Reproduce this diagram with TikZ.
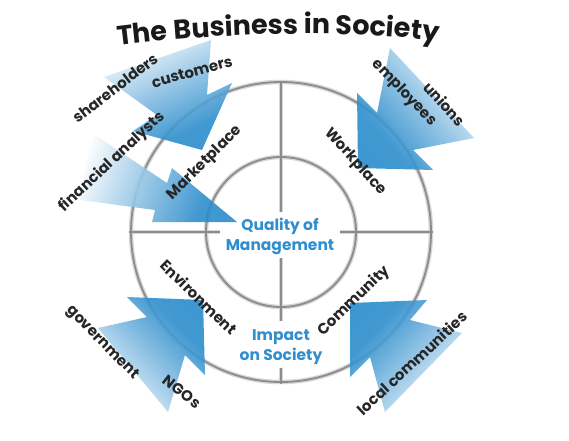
\documentclass[tikz,border=0pt]{standalone}
\usepackage{fontspec}
\setmainfont{Poppins}
\usetikzlibrary{decorations.text}
\definecolor{arrowblue}{HTML}{2388CA}
\definecolor{textblue}{HTML}{2F8ECF}
\definecolor{labelgray}{HTML}{262626}
\pgfdeclarehorizontalshading{arrowfade}{100bp}{color(0bp)=(white); color(22bp)=(white); color(48bp)=(arrowblue!55); color(68bp)=(arrowblue!95); color(100bp)=(arrowblue)}
\tikzset{
  ringline/.style={line width=4.5pt, black!16},
  ringcore/.style={line width=1.8pt, black!45},
  bigarrow/.style={shading=arrowfade, fill opacity=0.9},
  lbl/.style={font=\bfseries\fontsize{15}{17}\selectfont, text=labelgray, inner sep=0pt},
  center/.style={font=\bfseries\fontsize{15.5}{20}\selectfont, text=textblue, align=center, inner sep=0pt},
}
\begin{document}
\begin{tikzpicture}[x=1pt,y=-1pt]
\useasboundingbox (0,0) rectangle (569,440);
\fill[white] (0,0) rectangle (569,440);
\coordinate (c) at (281,232);
% rings and cross
\foreach \s in {ringline,ringcore}{
  \draw[\s] (c) circle (150pt);
  \draw[\s] (c) circle (75pt);
  \draw[\s] (281,81) -- (281,384);
  \draw[\s] (129,232) -- (433,232);
}
% white patches behind centre texts
\fill[white] (220,212) rectangle (340,258);
\fill[white] (234,321) rectangle (328,368);
% arrows
\shade[bigarrow, shading angle=-65] (104,77) -- (157,115) -- (133,131) -- (202,150) -- (232,83) -- (207,95) -- (211,40) -- cycle;
\shade[bigarrow, shading angle=-20] (92,133) -- (167,183) -- (172,168) -- (237,222) -- (152,222) -- (155,210) -- (80,200) -- cycle;
\shade[bigarrow, shading angle=-140] (390,48) -- (377,113) -- (357,93) -- (358,168) -- (433,170) -- (413,150) -- (474,138) -- cycle;
\shade[bigarrow, shading angle=44] (98,328) -- (147,317) -- (127,297) -- (203,300) -- (205,375) -- (185,355) -- (168,412) -- cycle;
\shade[bigarrow, shading angle=137] (462,333) -- (410,320) -- (427,300) -- (350,303) -- (350,377) -- (370,357) -- (385,412) -- cycle;
% title
\path[decorate, decoration={text along path, text align=center,
  text={|\bfseries\fontsize{27}{30}\selectfont\color{black!90}|The Business in Society}}]
  (106,47) .. controls (230,30) and (380,30) .. (450,44);
% centre texts
\node[center] (quality) at (280,236) {Quality of\\Management};
\node[center] (impact) at (281,347) {Impact\\on Society};
% ring labels
\node[lbl, rotate=45] (market) at (205,163) {Marketplace};
\node[lbl, rotate=-48] (work) at (355,162) {Workplace};
\node[lbl, rotate=-44] (env) at (199,297) {Environment};
\node[lbl, rotate=44] (comm) at (354,301) {Community};
% stakeholder labels
\node[lbl, rotate=15.5] (cust) at (192,72) {customers};
\node[lbl, rotate=37.5] (share) at (115,88) {shareholders};
\node[lbl, rotate=43] (fin) at (112,162) {financial analysts};
\node[lbl, rotate=-46] (empl) at (404,93) {employees};
\node[lbl, rotate=-48] (union) at (445,104) {unions};
\node[lbl, rotate=-45.5] (gov) at (102,343) {government};
\node[lbl, rotate=-38] (ngo) at (182,392) {NGOs};
\node[lbl, rotate=43] (local) at (412,363) {local communities};
\end{tikzpicture}
\end{document}
